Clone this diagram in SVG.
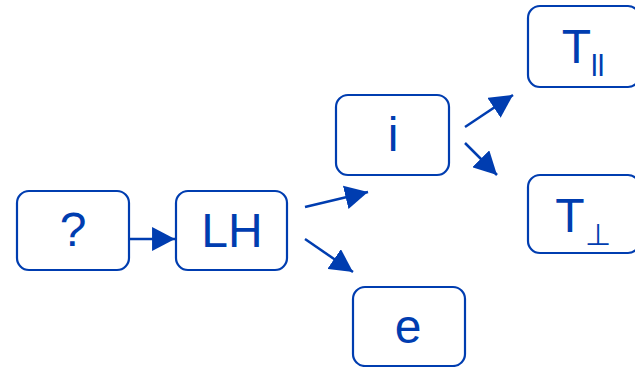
<svg xmlns="http://www.w3.org/2000/svg" width="635" height="367" viewBox="0 0 635 367">
<style>
.box{fill:#fff;stroke:#003DB0;stroke-width:2.2}
.lbl{font-family:"Liberation Sans",Arial,sans-serif;font-size:48px;fill:#003DB0;text-anchor:middle}
.sub{font-size:30px}
.edge{stroke:#003DB0;stroke-width:2.5;fill:none}
</style>
<defs>
<marker id="ah" markerUnits="userSpaceOnUse" markerWidth="24" markerHeight="24" viewBox="0 0 22 22" refX="21" refY="11" orient="auto">
<path d="M0,0 L21,11 L0,22 Z" fill="#003DB0"/>
</marker>
</defs>
<g id="connectors">
<line class="edge" x1="129" y1="239" x2="175" y2="239" marker-end="url(#ah)"/>
<line class="edge" x1="305" y1="207" x2="368" y2="192" marker-end="url(#ah)"/>
<line class="edge" x1="305" y1="239" x2="353" y2="272" marker-end="url(#ah)"/>
<line class="edge" x1="465" y1="127" x2="513" y2="95" marker-end="url(#ah)"/>
<line class="edge" x1="465" y1="143" x2="497" y2="175" marker-end="url(#ah)"/>
</g>
<g id="node-q">
<rect class="box" x="17" y="191" width="112" height="79" rx="12"/>
<text class="lbl" x="73" y="246">?</text>
</g>
<g id="node-LH">
<rect class="box" x="176" y="191" width="111" height="79" rx="12"/>
<text class="lbl" x="232" y="247">LH</text>
</g>
<g id="node-i">
<rect class="box" x="336" y="95" width="113" height="80" rx="12"/>
<text class="lbl" x="393" y="151">i</text>
</g>
<g id="node-e">
<rect class="box" x="353" y="287" width="112" height="79" rx="12"/>
<text class="lbl" x="408" y="343">e</text>
</g>
<g id="node-Tpar">
<rect class="box" x="528" y="6" width="112" height="81" rx="12"/>
<text class="lbl" x="583" y="63">T<tspan class="sub" dy="13">ll</tspan></text>
</g>
<g id="node-Tperp">
<rect class="box" x="528" y="175" width="112" height="78" rx="12"/>
<text class="lbl" x="583" y="232">T<tspan class="sub" dy="13">⊥</tspan></text>
</g>
</svg>
